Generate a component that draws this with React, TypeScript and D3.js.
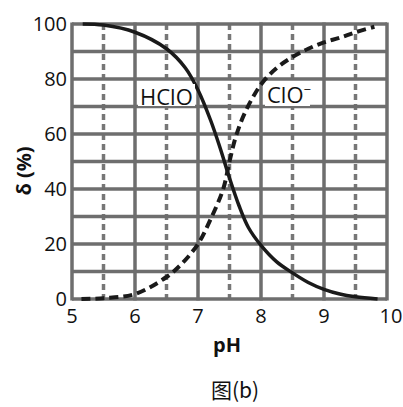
import React from 'react';
import * as d3 from 'd3';

// values
const hcloPH = [5.17, 5.5, 6, 6.5, 6.8, 7, 7.2, 7.35, 7.5, 7.65, 7.8, 8, 8.25, 8.5, 8.75, 9, 9.25, 9.5, 9.85];
const hcloPct = [100, 99.6, 97, 91, 84, 76, 65, 55, 44, 34, 26, 19.5, 13.5, 9.5, 6, 3.5, 1.8, 0.8, 0];
const cloPH = [5.15, 5.5, 6, 6.5, 6.75, 7, 7.2, 7.4, 7.5, 7.6, 7.75, 8, 8.25, 8.5, 8.75, 9, 9.25, 9.5, 9.8];
const cloPct = [0, 0.3, 1.8, 8, 13, 20, 29, 40, 50, 59, 68, 78, 84, 88, 91, 93.3, 95, 97, 99];
const xTicks = [5, 6, 7, 8, 9, 10];
const xHalfTicks = [5.5, 6.5, 7.5, 8.5, 9.5];
const yTicks = [0, 20, 40, 60, 80, 100];
const yGrid = [0, 10, 20, 30, 40, 50, 60, 70, 80, 90, 100];

const W = 403, H = 407;
const font = '"Open Sans", "Noto Sans", sans-serif';

export default function App() {
  const x = d3.scaleLinear().domain([5, 10]).range([72, 387]);
  const y = d3.scaleLinear().domain([0, 100]).range([299, 24]);

  const line = d3.line<[number, number]>()
    .x(d => x(d[0]))
    .y(d => y(d[1]))
    .curve(d3.curveCatmullRom.alpha(0.5));

  const hclo = hcloPH.map((p, i) => [p, hcloPct[i]] as [number, number]);
  const clo = cloPH.map((p, i) => [p, cloPct[i]] as [number, number]);

  const gridColor = '#6e6e6e';

  return (
    <svg width={W} height={H} style={{ position: 'absolute', left: 0, top: 0, background: '#fff' }}>
      {/* dashed half-pH lines */}
      {xHalfTicks.map(t => (
        <line key={'h' + t} x1={x(t)} x2={x(t)} y1={y(100)} y2={y(0)}
          stroke="#777" strokeWidth={3.5} strokeDasharray="6 4" />
      ))}
      {/* horizontal grid */}
      {yGrid.map(t => (
        <line key={'y' + t} x1={x(5)} x2={x(10)} y1={y(t)} y2={y(t)}
          stroke={gridColor} strokeWidth={3.5} />
      ))}
      {/* vertical grid */}
      {xTicks.map(t => (
        <line key={'x' + t} x1={x(t)} x2={x(t)} y1={y(100) - 1.5} y2={y(0) + 1.5}
          stroke={gridColor} strokeWidth={3.5} />
      ))}

      <path d={line(hclo) || ''} fill="none" stroke="#1a1a1a" strokeWidth={3.5} />
      <path d={line(clo) || ''} fill="none" stroke="#1a1a1a" strokeWidth={4} strokeDasharray="9 5" />

      {/* tick labels */}
      {yTicks.map(t => (
        <text key={'yl' + t} x={67} y={y(t)} dy="0.36em" textAnchor="end"
          fontFamily={font} fontSize={20} fill="#111">{t}</text>
      ))}
      {xTicks.map(t => (
        <text key={'xl' + t} x={x(t) + (t === 10 ? 4 : 0)} y={323} textAnchor="middle"
          fontFamily={font} fontSize={20} fill="#111">{t}</text>
      ))}

      {/* series labels */}
      <rect x={138} y={84} width={57} height={22} fill="#fff" />
      <text x={140} y={105} fontFamily={font} fontSize={22} fill="#111">HClO</text>
      <rect x={265} y={84} width={45} height={22} fill="#fff" />
      <text x={267} y={103} fontFamily={font} fontSize={22} fill="#111">ClO
        <tspan dy={-9} fontSize={13}>−</tspan>
      </text>

      {/* axis titles */}
      <text x={227} y={352} textAnchor="middle" fontFamily={font} fontSize={20} fontWeight="bold" fill="#111">pH</text>
      <text transform="translate(31,171) rotate(-90)" textAnchor="middle" fontFamily={font}
        fontSize={20} fontWeight="bold" fill="#111">δ (%)</text>
      <text x={235} y={398} textAnchor="middle" fontFamily={'"Noto Sans CJK SC", sans-serif'} fontSize={21} fill="#111">图(b)</text>
    </svg>
  );
}
